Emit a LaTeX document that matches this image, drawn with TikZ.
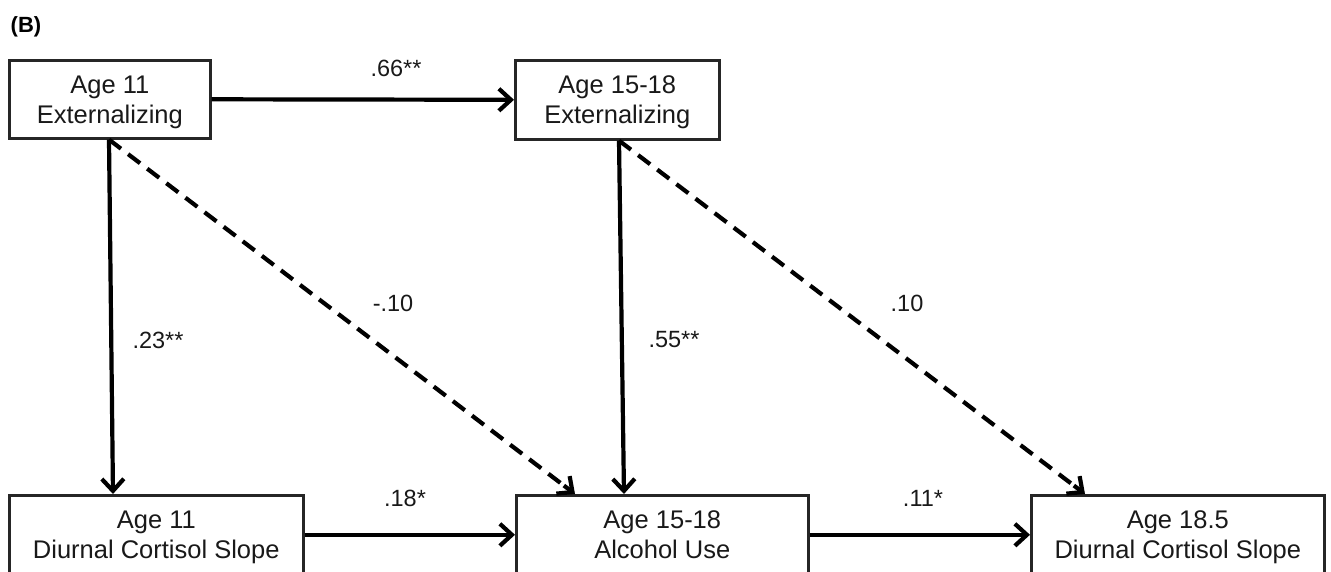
\documentclass[tikz,border=0pt]{standalone}
\usepackage{fontspec}
\setmainfont{Liberation Sans}
\usetikzlibrary{arrows.meta,calc}
\newcommand{\bs}{\rule[-6pt]{0pt}{30pt}}
\tikzset{
  box/.style={draw=black!85, line width=2.6pt, rectangle, align=center, anchor=north west,
    inner sep=0pt, font=\fontsize{25.5}{30}\selectfont, text=black!90},
  solidarr/.style={line width=4.2pt, -{Straight Barb[length=12pt,width=22pt,line width=4.2pt]}},
  dashline/.style={line width=4.2pt, dash pattern=on 15pt off 9pt},
  lbl/.style={font=\fontsize{23.5}{26}\selectfont, text=black!90, inner sep=0pt}
}
\begin{document}
\begin{tikzpicture}[x=1pt,y=-1pt]
\useasboundingbox (0,0) rectangle (1331,572);
\clip (0,0) rectangle (1331,572);
\fill[white] (0,0) rectangle (1331,572);
\node[font=\bfseries\fontsize{22}{24}\selectfont, inner sep=0pt] (lab) at (26,27) {(B)};
\node[box, minimum width=201pt, minimum height=78pt] (b1) at (8,59) {\bs Age 11\\\bs Externalizing};
\node[box, minimum width=204pt, minimum height=79pt] (b2) at (514,59) {\bs Age 15-18\\\bs Externalizing};
\node[box, minimum width=294pt, minimum height=79pt] (b3) at (8,494) {\bs Age 11\\\bs Diurnal Cortisol Slope};
\node[box, minimum width=292pt, minimum height=79pt] (b4) at (515,494) {\bs Age 15-18\\\bs Alcohol Use};
\node[box, minimum width=293pt, minimum height=79pt] (b5) at (1030,494) {\bs Age 18.5\\\bs Diurnal Cortisol Slope};

\coordinate (s1) at ([xshift=101pt]b1.south west);
\coordinate (s2) at ([xshift=105pt]b2.south west);
\coordinate (e3) at ([xshift=105pt]b3.north west);
\coordinate (e4a) at ([xshift=60pt]b4.north west);
\coordinate (e4b) at ([xshift=109pt]b4.north west);
\coordinate (e5) at ([xshift=55pt]b5.north west);
\coordinate (m1) at ($(e4a)!14pt!(s1)$);
\coordinate (m2) at ($(e5)!14pt!(s2)$);

\draw[solidarr] (b1.east) -- (b2.west);
\draw[solidarr] (b3.east) -- (b4.west);
\draw[solidarr] (b4.east) -- (b5.west);
\draw[solidarr] (s1) -- (e3);
\draw[solidarr] (s2) -- (e4b);
\draw[dashline] (s1) -- (m1);
\draw[solidarr] (m1) -- (e4a);
\draw[dashline] (s2) -- (m2);
\draw[solidarr] (m2) -- (e5);

\node[lbl] (l1) at (396,68) {.66**};
\node[lbl] (l2) at (158,340) {.23**};
\node[lbl] (l3) at (393,303) {-.10};
\node[lbl] (l4) at (674,340) {.55**};
\node[lbl] (l5) at (907,303) {.10};
\node[lbl] (l6) at (405,498) {.18*};
\node[lbl] (l7) at (923,498) {.11*};
\end{tikzpicture}
\end{document}
